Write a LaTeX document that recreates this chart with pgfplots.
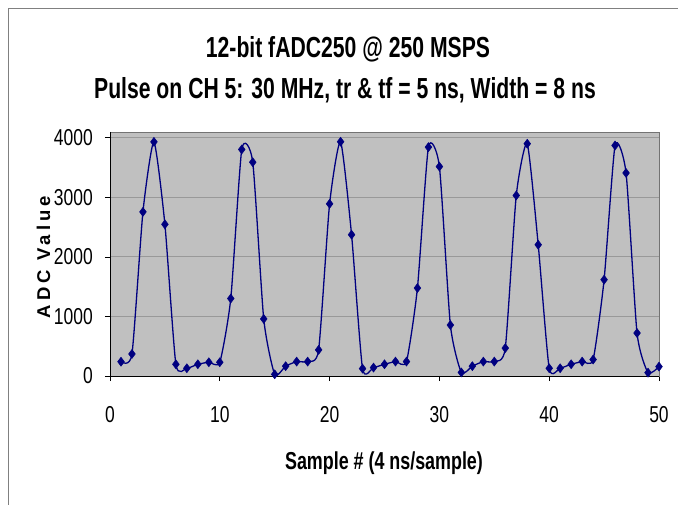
\documentclass[border=0pt]{standalone}
\usepackage{pgfplots}
\pgfplotsset{compat=1.18}
\usepackage{fontspec}
\setmainfont{Liberation Sans}
\newfontfamily\spaced[LetterSpace=22]{Liberation Sans}
\definecolor{plotgray}{HTML}{C0C0C0}
\definecolor{navyline}{HTML}{000080}
\pgfplotstableread{
n v
1 240
2 370
3 2755
4 3930
5 2546
6 197
7 130
8 197
9 231
10 231
11 1301
12 3803
13 3589
14 958
15 28
16 165
17 242
18 242
19 439
20 2890
21 3932
22 2372
23 124
24 141
25 197
26 242
27 242
28 1476
29 3842
30 3515
31 856
32 60
33 165
34 242
35 242
36 468
37 3031
38 3899
39 2203
40 130
41 130
42 197
43 242
44 276
45 1617
46 3870
47 3408
48 721
49 56
50 158
}\adcdata
\begin{document}
\begin{tikzpicture}[x=1pt,y=-1pt]
\path[use as bounding box,fill=white] (0,0) rectangle (678,505);
\draw[gray,line width=1pt] (8.5,505) -- (8.5,8.5) -- (678,8.5);
\begin{axis}[
  at={(110pt,-376pt)}, anchor=south west,
  width=549pt, height=244pt, scale only axis,
  xmin=0, xmax=50, ymin=0, ymax=4096,
  xtick={0,10,...,50}, ytick={0,1000,...,4000},
  axis background/.style={fill=plotgray},
  axis line style={draw=black!55, line width=0.8pt},
  ymajorgrids, major grid style={draw=black!40, line width=0.8pt},
  tick align=outside, xtick pos=bottom, ytick pos=left,
  major tick length=5pt, tick style={black, line width=0.7pt},
  /pgf/number format/assume math mode=true,
  /pgf/number format/set thousands separator={},
  xticklabel={\scalebox{0.76}[1]{\fontsize{23}{23}\selectfont\pgfmathprintnumber{\tick}}},
  yticklabel={\scalebox{0.76}[1]{\fontsize{23}{23}\selectfont\pgfmathprintnumber{\tick}}},
  xticklabel style={anchor=base, inner sep=0pt, yshift=-41pt},
  yticklabel style={anchor=east, inner sep=0pt, xshift=-12pt},
  clip=true,
]
\addplot[navyline, line width=1.3pt, smooth, tension=0.35,
  mark=diamond*, mark size=4.5pt, mark options={fill=navyline, draw=navyline, line width=0.5pt}]
  table[x=n,y=v] {\adcdata};
\draw[black, line width=1pt] (rel axis cs:0,1) -- (rel axis cs:0,0) -- (rel axis cs:1,0);
\end{axis}
\node[anchor=base, inner sep=0pt] at (348,57.5) {\scalebox{0.73}[1]{\fontsize{29}{29}\selectfont\bfseries 12-bit fADC250 @ 250 MSPS}};
\node[anchor=base, inner sep=0pt] at (345,99) {\scalebox{0.73}[1]{\fontsize{29}{29}\selectfont\bfseries Pulse on CH 5: 30 MHz, tr \& tf = 5 ns, Width = 8 ns}};
\node[anchor=base, inner sep=0pt] at (384,469) {\scalebox{0.73}[1]{\fontsize{24.5}{24.5}\selectfont\bfseries Sample \# (4 ns/sample)}};
\node[rotate=90, anchor=base, inner sep=0pt] at (50,257) {\fontsize{18.5}{18.5}\selectfont\spaced\bfseries ADC Value};
\end{tikzpicture}
\end{document}
